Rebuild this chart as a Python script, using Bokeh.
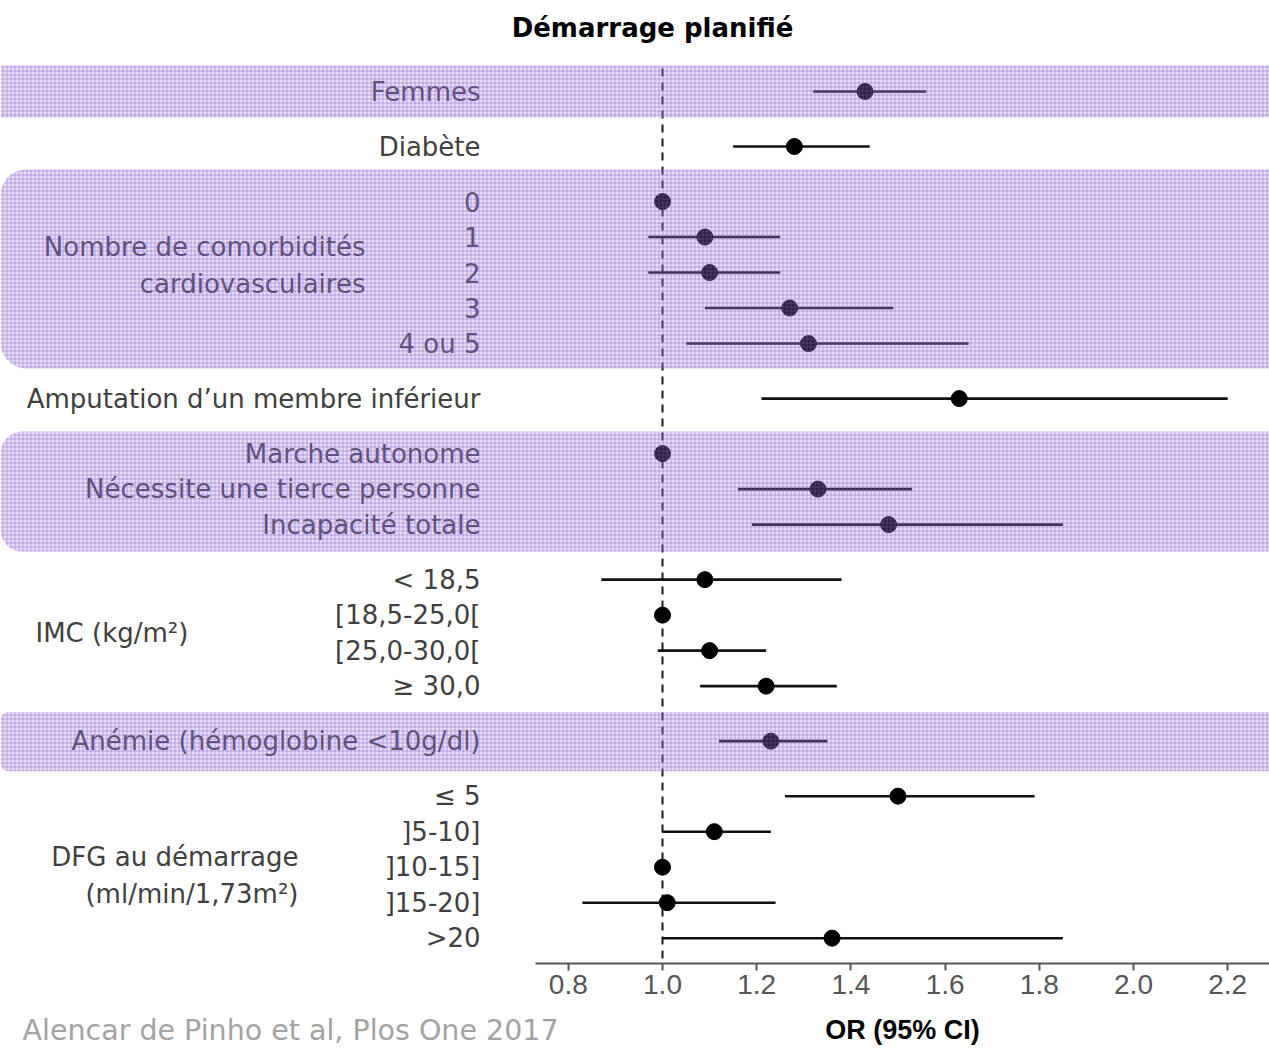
import math
from bokeh.plotting import figure
from bokeh.models import Range1d, FixedTicker, NumeralTickFormatter, BoxAnnotation, ColumnDataSource
from bokeh.core.properties import value
from bokeh.embed import file_html
from bokeh.resources import INLINE

nan = float("nan")

# ---------------- data ----------------
title_text = "Démarrage planifié"
x_label = "OR (95% CI)"
source_note = "Alencar de Pinho et al, Plos One 2017"

labels = [
    "Femmes",
    "Diabète",
    "0", "1", "2", "3", "4 ou 5",
    "Amputation d’un membre inférieur",
    "Marche autonome", "Nécessite une tierce personne", "Incapacité totale",
    "< 18,5", "[18,5-25,0[", "[25,0-30,0[", "≥ 30,0",
    "Anémie (hémoglobine <10g/dl)",
    "≤ 5", "]5-10]", "]10-15]", "]15-20]", ">20",
]
groups = [0, 1, 2, 2, 2, 2, 2, 3, 4, 4, 4, 5, 5, 5, 5, 6, 7, 7, 7, 7, 7]
or_vals = [1.43, 1.28, 1.00, 1.09, 1.10, 1.27, 1.31, 1.63, 1.00, 1.33, 1.48,
           1.09, 1.00, 1.10, 1.22, 1.23, 1.50, 1.11, 1.00, 1.01, 1.36]
ci_low = [1.32, 1.15, nan, 0.97, 0.97, 1.09, 1.05, 1.21, nan, 1.16, 1.19,
          0.87, nan, 0.99, 1.08, 1.12, 1.26, 1.00, nan, 0.83, 1.00]
ci_high = [1.56, 1.44, nan, 1.25, 1.25, 1.49, 1.65, 2.20, nan, 1.53, 1.85,
           1.38, nan, 1.22, 1.37, 1.35, 1.79, 1.23, nan, 1.24, 1.85]

group_titles = {
    2: ["Nombre de comorbidités", "cardiovasculaires"],
    5: ["IMC (kg/m²)"],
    7: ["DFG au démarrage", "(ml/min/1,73m²)"],
}
shaded_groups = [0, 2, 4, 6]
x_ticks = [0.8, 1.0, 1.2, 1.4, 1.6, 1.8, 2.0, 2.2]
null_value = 1.0

# ---------------- layout helpers ----------------
PX0, PXU = 662.0, 471.0   # pixel of OR=1, pixels per OR unit
PY0, PYU = 91.0, 35.5     # pixel of first row, pixels per row


def X(px):
    return 1.0 + (px - PX0) / PXU


def Y(py):
    return (py - PY0) / PYU


GAP = 1.55
ys = []
yy = 0.0
for i, g in enumerate(groups):
    if i > 0:
        yy += 1.0 if g == groups[i - 1] else GAP
    ys.append(yy)

W, H = 1269, 1053
p = figure(width=W, height=H, output_backend="svg", toolbar_location=None,
           x_range=Range1d(X(0), X(W)), y_range=Range1d(Y(H), Y(0)),
           y_axis_location=None, min_border=0, min_border_left=0,
           min_border_right=0, min_border_top=0, min_border_bottom=0)
p.outline_line_color = None
p.grid.visible = False
p.background_fill_color = "white"

FONT = value("DejaVu Sans")
TXT = "#404040"

# dashed reference line
p.segment(x0=[null_value], x1=[null_value], y0=[ys[0] - 0.65], y1=[Y(963)],
          line_color="#1a1a1a", line_width=2, line_dash="8 6")

# CI lines and points
src = ColumnDataSource(dict(y=ys, orv=or_vals, lo=ci_low, hi=ci_high, lab=labels))
p.segment(x0="lo", x1="hi", y0="y", y1="y", source=src, line_color="#111111", line_width=2.6)
p.scatter(x="orv", y="y", source=src, size=16, fill_color="#000000", line_color="#000000")

# row labels
p.text(x=X(480), y="y", text="lab", source=src, text_align="right", text_baseline="middle",
       text_font=FONT, text_font_size="26px", text_color=TXT)

# group labels
offs = {2: -0.2, 5: 0.0, 7: 0.235}
gx = {2: (X(365), "right"), 5: (X(35), "left"), 7: (X(298), "right")}
for g, lines in group_titles.items():
    gy = [ys[i] for i in range(len(groups)) if groups[i] == g]
    c = sum(gy) / len(gy)
    n = len(lines)
    yl = [c + (k - (n - 1) / 2) * 1.02 + offs[g] for k in range(n)]
    x, al = gx[g]
    p.text(x=[x] * n, y=yl, text=lines, text_align=al, text_baseline="middle",
           text_font=FONT, text_font_size="26px", text_color=TXT)

# title and source note
p.text(x=[X(652)], y=[Y(27)], text=[title_text], text_align="center", text_baseline="middle",
       text_font=FONT, text_font_size="26px", text_font_style="bold", text_color="#000000")
p.text(x=[X(22)], y=[Y(1030)], text=[source_note], text_align="left", text_baseline="middle",
       text_font=FONT, text_font_size="28.5px", text_color="#a3a3a3")

# shaded bands (drawn over, semi-transparent textured)
radius = {0: (0, 0, 0, 0), 2: (26, 0, 0, 26), 4: (22, 0, 0, 22), 6: (8, 0, 0, 8)}
pad_top = {0: 0.73, 2: 0.9, 4: 0.62, 6: 0.82}
pad_bot = {0: 0.73, 2: 0.7, 4: 0.76, 6: 0.85}
for g in shaded_groups:
    gy = [ys[i] for i in range(len(groups)) if groups[i] == g]
    band = BoxAnnotation(top=min(gy) - pad_top[g], bottom=max(gy) + pad_bot[g],
                         fill_color="#a584dc", fill_alpha=0.27,
                         hatch_pattern="cross", hatch_color="#7a48c6", hatch_alpha=0.4,
                         hatch_scale=4, hatch_weight=1,
                         line_color=None, border_radius=radius[g])
    p.add_layout(band)

# x axis
ax = p.xaxis[0]
ax.fixed_location = Y(963)
ax.bounds = (X(535), X(W))
ax.ticker = FixedTicker(ticks=x_ticks)
ax.formatter = NumeralTickFormatter(format="0.0")
ax.minor_tick_line_color = None
ax.axis_line_color = "#555555"
ax.axis_line_width = 2
ax.major_tick_line_color = "#555555"
ax.major_tick_line_width = 2
ax.major_tick_out = 7
ax.major_tick_in = 0
ax.major_label_standoff = 4
ax.major_label_text_font = "Liberation Sans"
ax.major_label_text_font_size = "28px"
ax.major_label_text_color = "#555555"
ax.axis_label = x_label
ax.axis_label_standoff = 18
ax.axis_label_text_font = "Liberation Sans"
ax.axis_label_text_font_size = "27px"
ax.axis_label_text_font_style = "bold"
ax.axis_label_text_color = "#000000"

open("out.html", "w").write(file_html(p, INLINE))
